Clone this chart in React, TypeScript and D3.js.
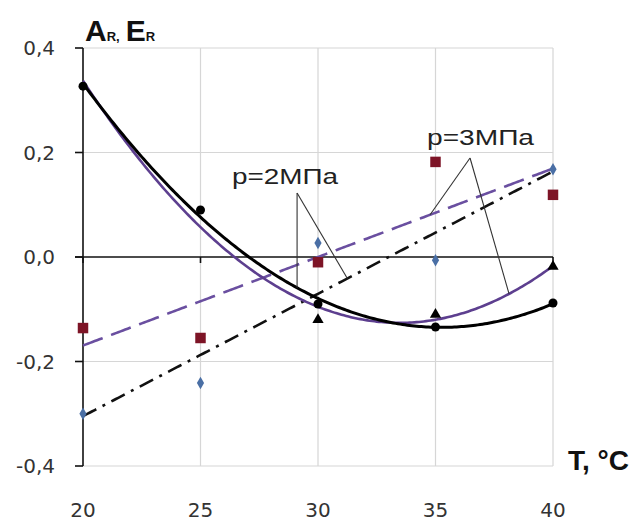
import React from "react";
import * as d3 from "d3";

const temps = [20, 25, 30, 35, 40];
// p = 2 MPa
const circles2 = [0.327, 0.09, -0.09, -0.134, -0.088];
const diamonds2 = [-0.3, -0.241, 0.027, -0.006, 0.168];
// p = 3 MPa
const triangles3 = [0.33, 0.08, -0.12, -0.11, -0.018];
const squares3 = [-0.136, -0.155, -0.01, 0.182, 0.119];
// triangles that are not hidden beneath the circles / curves
const trianglesShown = [false, false, true, true, true];

const xTicks = [20, 25, 30, 35, 40];
const yTicks = [-0.4, -0.2, 0, 0.2, 0.4];
const yTickLabels = ["-0,4", "-0,2", "0,0", "0,2", "0,4"];

// callouts: apex (T, value) and target T on fitted series
const callout2 = { label: "p=2МПа", apex: [29.11, 0.1225], targets: [29.11, 31.25] };
const callout3 = { label: "p=3МПа", apex: [36.47, 0.1895], targets: [34.77, 38.13] };

function fitPoly(xs: number[], ys: number[], deg: number) {
  const n = deg + 1;
  const A: number[][] = Array.from({ length: n }, () => new Array(n + 1).fill(0));
  for (let i = 0; i < xs.length; i++) {
    for (let r = 0; r < n; r++) {
      for (let c = 0; c < n; c++) A[r][c] += Math.pow(xs[i], r + c);
      A[r][n] += Math.pow(xs[i], r) * ys[i];
    }
  }
  for (let i = 0; i < n; i++) {
    let m = i;
    for (let k = i + 1; k < n; k++) if (Math.abs(A[k][i]) > Math.abs(A[m][i])) m = k;
    [A[i], A[m]] = [A[m], A[i]];
    for (let k = i + 1; k < n; k++) {
      const f = A[k][i] / A[i][i];
      for (let j = i; j <= n; j++) A[k][j] -= f * A[i][j];
    }
  }
  const coef = new Array(n).fill(0);
  for (let i = n - 1; i >= 0; i--) {
    let s = A[i][n];
    for (let j = i + 1; j < n; j++) s -= A[i][j] * coef[j];
    coef[i] = s / A[i][i];
  }
  return (x: number) => coef.reduce((acc, c, i) => acc + c * Math.pow(x, i), 0);
}

export default function App() {
  const W = 635, H = 525;
  const x = d3.scaleLinear().domain([20, 40]).range([83, 553]);
  const y = d3.scaleLinear().domain([-0.4, 0.4]).range([466, 48]);

  const fCirc = fitPoly(temps, circles2, 2);
  const fTri = fitPoly(temps, triangles3, 2);
  const fSq = fitPoly(temps, squares3, 1);
  const fDia = fitPoly(temps, diamonds2, 1);

  const samples = d3.range(20, 40.001, 0.1);
  const curve = (f: (t: number) => number) =>
    d3.line<number>().x((t) => x(t)).y((t) => y(f(t)))(samples) || "";

  const gridColor = "#d6d6d6";
  const purple = "#5d3f8f";
  const dashPurple = "#6a4fa0";
  const red = "#7d1426";
  const blue = "#4a6fa5";

  const tri = d3.symbol().type(d3.symbolTriangle).size(55)() || "";
  const sq = d3.symbol().type(d3.symbolSquare).size(110)() || "";
  const dia = d3.symbol().type(d3.symbolDiamond).size(45)() || "";

  const calloutLines = (
    c: typeof callout2,
    fA: (t: number) => number,
    fB: (t: number) => number
  ) => {
    const [ax, ay] = c.apex;
    return (
      <g stroke="#333" strokeWidth={1.1} fill="none">
        <line x1={x(ax)} y1={y(ay)} x2={x(c.targets[0])} y2={y(fA(c.targets[0]))} />
        <line x1={x(ax)} y1={y(ay)} x2={x(c.targets[1])} y2={y(fB(c.targets[1]))} />
      </g>
    );
  };

  return (
    <svg width={W} height={H} style={{ position: "absolute", left: 0, top: 0, background: "#fff" }}>
      <rect width={W} height={H} fill="#fff" />
      {/* grid */}
      <g stroke={gridColor} strokeWidth={1.2}>
        {xTicks.filter((t) => t !== 20).map((t) => (
          <line key={"gx" + t} x1={x(t)} x2={x(t)} y1={y(0.4)} y2={y(-0.4)} />
        ))}
        {yTicks.filter((t) => t !== 0).map((t) => (
          <line key={"gy" + t} x1={x(20)} x2={x(40)} y1={y(t)} y2={y(t)} />
        ))}
      </g>
      {/* axes */}
      <g stroke="#111" strokeWidth={1.6}>
        <line x1={x(20)} x2={x(20)} y1={y(0.4)} y2={y(-0.4)} />
        <line x1={x(20) - 8} x2={x(40)} y1={y(0)} y2={y(0)} />
        {yTicks.map((t) => (
          <line key={"ty" + t} x1={x(20) - 8} x2={x(20)} y1={y(t)} y2={y(t)} />
        ))}
        {xTicks.map((t) => (
          <line key={"tx" + t} x1={x(t)} x2={x(t)} y1={y(0)} y2={y(0) + 6} />
        ))}
      </g>
      {/* tick labels */}
      <g fontFamily="DejaVu Sans, sans-serif" fontSize={20} fill="#333">
        {yTicks.map((t, i) => (
          <text key={"ly" + t} x={55} y={y(t)} dy="0.36em" textAnchor="end">
            {yTickLabels[i]}
          </text>
        ))}
        {xTicks.map((t) => (
          <text key={"lx" + t} x={x(t)} y={517} textAnchor="middle">
            {String(t)}
          </text>
        ))}
      </g>
      {/* trend lines */}
      <path d={curve(fSq)} stroke={dashPurple} strokeWidth={2.6} fill="none" strokeDasharray="21,9" />
      <path d={curve(fDia)} stroke="#111" strokeWidth={2.6} fill="none" strokeDasharray="15,7,3,7" />
      <path d={curve(fTri)} stroke={purple} strokeWidth={2.6} fill="none" />
      <path d={curve(fCirc)} stroke="#000" strokeWidth={3} fill="none" />
      {/* markers */}
      {temps.map((t, i) => (
        <path key={"sq" + t} d={sq} transform={`translate(${x(t)},${y(squares3[i])})`} fill={red} />
      ))}
      {temps.map((t, i) => (
        <path key={"di" + t} d={dia} transform={`translate(${x(t)},${y(diamonds2[i])})`} fill={blue} />
      ))}
      {temps.map((t, i) =>
        trianglesShown[i] ? (
          <path key={"tr" + t} d={tri} transform={`translate(${x(t)},${y(triangles3[i])})`} fill="#000" />
        ) : null
      )}
      {temps.map((t, i) => (
        <circle key={"ci" + t} cx={x(t)} cy={y(circles2[i])} r={4.5} fill="#000" />
      ))}
      {/* callouts */}
      {calloutLines(callout2, fCirc, fDia)}
      {calloutLines(callout3, fSq, fTri)}
      <g fontFamily="Liberation Sans, Arial, sans-serif" fontSize={22} fill="#222">
        <text x={232} y={184} textLength={106} lengthAdjust="spacingAndGlyphs">
          {callout2.label}
        </text>
        <text x={427} y={145} textLength={107} lengthAdjust="spacingAndGlyphs">
          {callout3.label}
        </text>
      </g>
      {/* axis titles */}
      <text x={85} y={41} fontFamily="Liberation Sans, Arial, sans-serif" fontWeight="bold" fill="#111" fontSize={30}>
        <tspan>A</tspan>
        <tspan fontSize={13}>R,</tspan>
        <tspan dx={6}>E</tspan>
        <tspan fontSize={13}>R</tspan>
      </text>
      <text x={568} y={470} fontFamily="Liberation Sans, Arial, sans-serif" fontWeight="bold" fill="#111" fontSize={28}>
        T, °C
      </text>
    </svg>
  );
}
